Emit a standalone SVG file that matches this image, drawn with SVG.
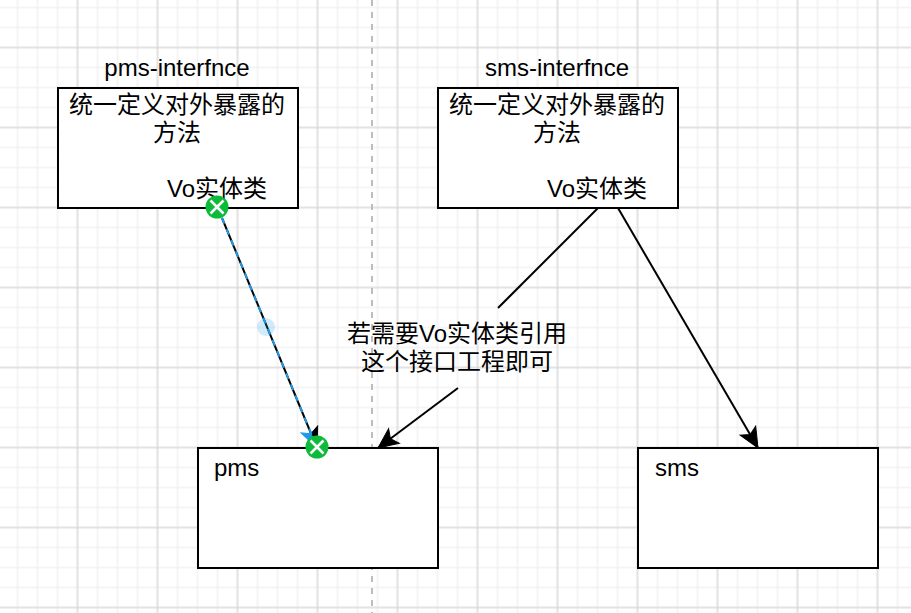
<svg xmlns="http://www.w3.org/2000/svg" width="911" height="613" viewBox="0 0 911 613">
<defs>
<pattern id="minor" width="20" height="20" patternUnits="userSpaceOnUse" x="7.5" y="-2.5"><path d="M0 10H20M10 0V20" fill="none" stroke="#f2f2f2" stroke-width="1.5"/></pattern>
<pattern id="major" width="80" height="80" patternUnits="userSpaceOnUse" x="37.5" y="7.5"><path d="M0 40H80M40 0V80" fill="none" stroke="#d0d0d0" stroke-width="1"/></pattern>
<marker id="arrow" markerUnits="userSpaceOnUse" markerWidth="24" markerHeight="24" refX="21" refY="11" orient="auto"><path d="M1 2L21 11L1 20L5.5 11Z" fill="#000" stroke="#000"/></marker>
<marker id="arrowBlue" markerUnits="userSpaceOnUse" markerWidth="24" markerHeight="24" refX="21" refY="11" orient="auto"><path d="M1 2L21 11L5.5 11Z" fill="#000" stroke="#000"/><path d="M1 20L21 11L5.5 11Z" fill="#1e9be8" stroke="#1e9be8"/></marker>
</defs>
<style>
.box{fill:#fff;stroke:#000;stroke-width:2}
text{font-family:"Liberation Sans","Noto Sans CJK SC",sans-serif;font-size:24px;fill:#000}
.m{text-anchor:middle}
.edge{fill:none;stroke:#000;stroke-width:2}
</style>
<rect width="911" height="613" fill="#fff"/>
<rect width="911" height="613" fill="url(#minor)"/>
<rect width="911" height="613" fill="url(#major)"/>
<path d="M372 0V613" stroke="#bdbdbd" stroke-width="2" stroke-dasharray="6 6" fill="none"/>
<g id="connectors">
<path class="edge" d="M598 208L498 308"/>
<path class="edge" d="M458 388L378 448" marker-end="url(#arrow)"/>
<path class="edge" d="M618 208L758 448" marker-end="url(#arrow)"/>
<path class="edge" d="M222 218L317 448" marker-end="url(#arrowBlue)"/>
<path d="M222 218L313 438" fill="none" stroke="#1e9be8" stroke-width="2" stroke-dasharray="6 6"/>
</g>
<circle cx="266" cy="327" r="9" fill="#1e9be8" fill-opacity=".2"/>
<g id="pms-interface"><rect class="box" x="58" y="88" width="240" height="120"/><text class="m" x="177" y="76">pms-interfnce</text><text class="m" x="177" y="113">统一定义对外暴露的</text><text class="m" x="177" y="141">方法</text><text x="167" y="197">Vo实体类</text></g>
<g id="sms-interface"><rect class="box" x="438" y="88" width="240" height="120"/><text class="m" x="557" y="76">sms-interfnce</text><text class="m" x="557" y="113">统一定义对外暴露的</text><text class="m" x="557" y="141">方法</text><text x="547" y="197">Vo实体类</text></g>
<g id="pms"><rect class="box" x="198" y="448" width="240" height="120"/><text x="214" y="476">pms</text></g>
<g id="sms"><rect class="box" x="638" y="448" width="240" height="120"/><text x="655" y="476">sms</text></g>
<g id="label"><text class="m" x="457" y="342">若需要Vo实体类引用</text><text class="m" x="457" y="370">这个接口工程即可</text></g>
<g id="marks">
<circle cx="217" cy="207" r="11.5" fill="#0dbb3a"/><path d="M210.500 200.500L223.500 213.500M223.500 200.500L210.500 213.500" stroke="#fff" stroke-width="2.500" fill="none"/>
<circle cx="317" cy="447" r="11.500" fill="#0dbb3a"/><path d="M310.500 440.500L323.500 453.500M323.500 440.500L310.500 453.500" stroke="#fff" stroke-width="2.500" fill="none"/>
</g>
</svg>
